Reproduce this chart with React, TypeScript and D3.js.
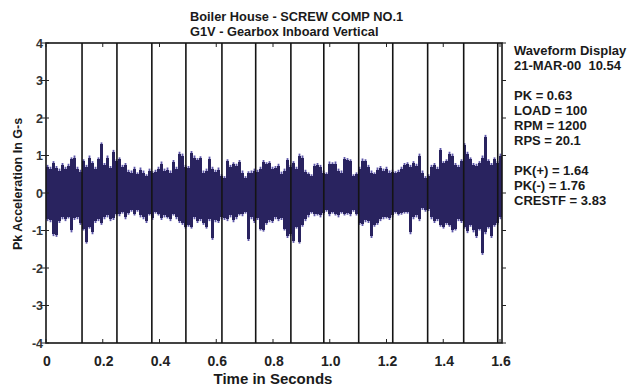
import React from 'react';
import * as d3 from 'd3';

const WIDTH = 633;
const HEIGHT = 388;
const FONT = '"Liberation Sans", Arial, sans-serif';

const titleLines = ['Boiler House - SCREW COMP NO.1', 'G1V - Gearbox Inboard Vertical'];
const infoLines = [
  'Waveform Display',
  '21-MAR-00\u00a0\u00a010.54',
  '',
  'PK = 0.63',
  'LOAD = 100',
  'RPM = 1200',
  'RPS = 20.1',
  '',
  'PK(+) = 1.64',
  'PK(-) = 1.76',
  'CRESTF = 3.83',
];

const xTicks = [0, 0.2, 0.4, 0.6, 0.8, 1.0, 1.2, 1.4, 1.6];
const xTickLabels = ['0', '0.2', '0.4', '0.6', '0.8', '1.0', '1.2', '1.4', '1.6'];
const yTicks = [4, 3, 2, 1, 0, -1, -2, -3, -4];
const yTickLabels = ['4', '3', '2', '1', '0', '-1', '-2', '-3', '-4'];

// revolution marker times (s)
const markers = [0.127, 0.25, 0.373, 0.493, 0.62, 0.739, 0.863, 0.979, 1.102, 1.222, 1.345, 1.472, 1.592];

const T_END = 1.607;

// waveform envelope, one pair per sample bin (G-s)
const peakHi = [
  0.75, 0.7, 0.85, 0.72, 0.65, 0.8, 0.7, 0.78, 0.95, 1.0, 0.7, 0.62,
  0.9, 0.75, 1.0, 0.85, 0.7, 0.95, 1.35, 0.8, 1.0, 0.72, 1.15, 0.9,
  0.95, 0.75, 0.8, 0.62, 0.6, 0.7, 0.55, 0.68, 0.6, 0.5, 0.65, 0.58,
  0.62, 0.7, 0.84, 0.65, 0.68, 0.6, 0.88, 0.7, 1.1, 1.05, 0.75, 0.72,
  1.12, 1.0, 0.93, 0.98, 0.6, 0.65, 0.97, 0.7, 0.62, 0.68, 0.5, 0.45,
  0.9, 0.75, 0.82, 0.78, 0.88, 0.6, 0.45, 0.58, 0.6, 0.65, 0.62, 0.7,
  0.88, 0.82, 0.85, 0.7, 0.72, 0.78, 0.57, 0.65, 0.93, 0.75, 0.85, 0.7,
  1.05, 1.0, 0.62, 0.55, 0.5, 0.78, 0.8, 0.75, 0.6, 0.55, 0.84, 0.82,
  0.84, 0.65, 0.6, 0.96, 0.93, 0.9, 0.5, 0.55, 0.7, 0.92, 0.9, 0.75,
  0.6, 0.55, 0.68, 0.72, 0.65, 0.7, 0.6, 0.62, 0.58, 0.62, 0.7, 0.8,
  0.82, 0.75, 0.85, 0.78, 1.05, 0.6, 0.45, 0.5, 0.75, 0.8, 0.7, 1.2,
  0.85, 0.9, 1.1, 1.05, 0.8, 0.75, 0.9, 1.33, 1.1, 0.95, 0.8, 0.78,
  0.85, 1.0, 1.55, 0.9, 0.8, 0.95, 0.85, 1.05,
];
const peakLo = [
  -0.75, -0.78, -1.15, -1.17, -0.8, -0.7, -0.75, -0.68, -1.05, -0.72, -0.7, -0.85,
  -1.0, -1.35, -0.95, -1.1, -0.8, -0.75, -0.85, -0.7, -0.65, -0.75, -0.72, -0.6,
  -0.62, -0.55, -0.7, -0.58, -0.5, -0.6, -0.5, -0.65, -0.7, -0.8, -0.6, -0.72,
  -0.55, -0.6, -0.72, -0.65, -0.68, -0.75, -0.6, -0.7, -0.8, -0.85, -0.95, -0.9,
  -0.95, -0.7, -0.8, -0.75, -0.85, -0.95, -0.75, -1.25, -0.78, -0.8, -0.7, -0.72,
  -0.75, -0.65, -0.78, -0.7, -0.6, -0.62, -0.55, -1.28, -0.7, -0.8, -0.72, -1.0,
  -1.03, -0.85, -0.78, -0.8, -0.7, -0.75, -0.72, -1.0, -1.2, -1.15, -1.33, -0.95,
  -1.35, -0.9, -0.75, -0.65, -0.55, -0.62, -0.6, -0.65, -0.58, -0.5, -0.62, -0.55,
  -0.6, -0.65, -0.55, -0.6, -0.58, -0.62, -0.5, -0.6, -0.85, -0.88, -0.78, -0.8,
  -1.2, -0.9, -0.85, -0.75, -0.7, -0.68, -0.72, -0.65, -0.55, -0.6, -0.58, -0.55,
  -0.55, -1.1, -0.7, -0.65, -0.75, -0.45, -0.5, -0.48, -0.7, -0.8, -0.75, -0.9,
  -0.95, -0.85, -0.9, -1.05, -1.0, -0.75, -0.8, -0.95, -1.07, -0.9, -1.05, -1.2,
  -1.0, -1.65, -1.1, -0.95, -1.2, -0.9, -0.85, -0.7,
];

const margin = { left: 46, right: 502, top: 43, bottom: 343 };

export default function App() {
  const x = d3.scaleLinear().domain([0, T_END]).range([margin.left, margin.right]);
  const y = d3.scaleLinear().domain([-4, 4]).range([margin.bottom, margin.top]);

  const binW = T_END / peakHi.length;
  const bins = peakHi.map((hi, i) => ({ t0: i * binW, t1: (i + 1) * binW, hi, lo: peakLo[i] }));

  return (
    <svg
      width={WIDTH}
      height={HEIGHT}
      style={{ position: 'absolute', left: 0, top: 0, background: '#fff' }}
      fontFamily={FONT}
      fontWeight="bold"
    >
      {/* titles */}
      {titleLines.map((line, i) => (
        <text key={line} x={190} y={21 + i * 15} fontSize={12.8} fill="#1a1a1a">
          {line}
        </text>
      ))}

      {/* waveform: dark core with lighter spike edges */}
      <g fill="#5d56a8">
        {bins.map((b, i) => (
          <rect
            key={i}
            x={x(b.t0) + 0.6}
            width={x(b.t1) - x(b.t0) - 1.2}
            y={y(b.hi)}
            height={y(b.lo) - y(b.hi)}
          />
        ))}
      </g>
      <g fill="#29235f" shapeRendering="crispEdges">
        {bins.map((b, i) => (
          <rect
            key={i}
            x={x(b.t0)}
            width={x(b.t1) - x(b.t0)}
            y={y(b.hi) + 2}
            height={Math.max(0, y(b.lo) - y(b.hi) - 4)}
          />
        ))}
      </g>

      {/* revolution markers */}
      <g stroke="#141414" strokeWidth={1.6}>
        {markers.map(m => (
          <line key={m} x1={x(m)} x2={x(m)} y1={margin.top} y2={margin.bottom} />
        ))}
      </g>

      {/* frame */}
      <rect
        x={margin.left}
        y={margin.top}
        width={margin.right - margin.left}
        height={margin.bottom - margin.top}
        fill="none"
        stroke="#141414"
        strokeWidth={1.6}
      />

      {/* x ticks */}
      <g stroke="#222" strokeWidth={1}>
        {xTicks.map(t => (
          <g key={t}>
            <line x1={x(t)} x2={x(t)} y1={margin.top} y2={margin.top + 4} />
            <line x1={x(t)} x2={x(t)} y1={margin.bottom} y2={margin.bottom - 4} />
          </g>
        ))}
      </g>
      {xTicks.map((t, i) => (
        <text key={t} x={x(t) + 1} y={366} fontSize={14} textAnchor="middle" fill="#222">
          {xTickLabels[i]}
        </text>
      ))}

      {/* y ticks */}
      <g stroke="#222" strokeWidth={1}>
        {yTicks.map(v => (
          <g key={v}>
            <line x1={margin.left - 5} x2={margin.left + 3} y1={y(v)} y2={y(v)} />
            <line x1={margin.right} x2={margin.right + 4} y1={y(v)} y2={y(v)} />
          </g>
        ))}
      </g>
      {yTicks.map((v, i) => (
        <text key={v} x={margin.left - 3} y={y(v) + 4.5} fontSize={12.5} textAnchor="end" fill="#333">
          {yTickLabels[i]}
        </text>
      ))}

      {/* axis titles */}
      <text x={273} y={384} fontSize={15} textAnchor="middle" fill="#1a1a1a">
        Time in Seconds
      </text>
      <text
        transform={`translate(22,${184}) rotate(-90)`}
        fontSize={12.5}
        textAnchor="middle"
        fill="#1a1a1a"
      >
        Pk Acceleration In G-s
      </text>

      {/* info panel */}
      {infoLines.map((line, i) =>
        line ? (
          <text key={i} x={514} y={55 + i * 15} fontSize={13} fill="#1a1a1a">
            {line}
          </text>
        ) : null
      )}
    </svg>
  );
}
